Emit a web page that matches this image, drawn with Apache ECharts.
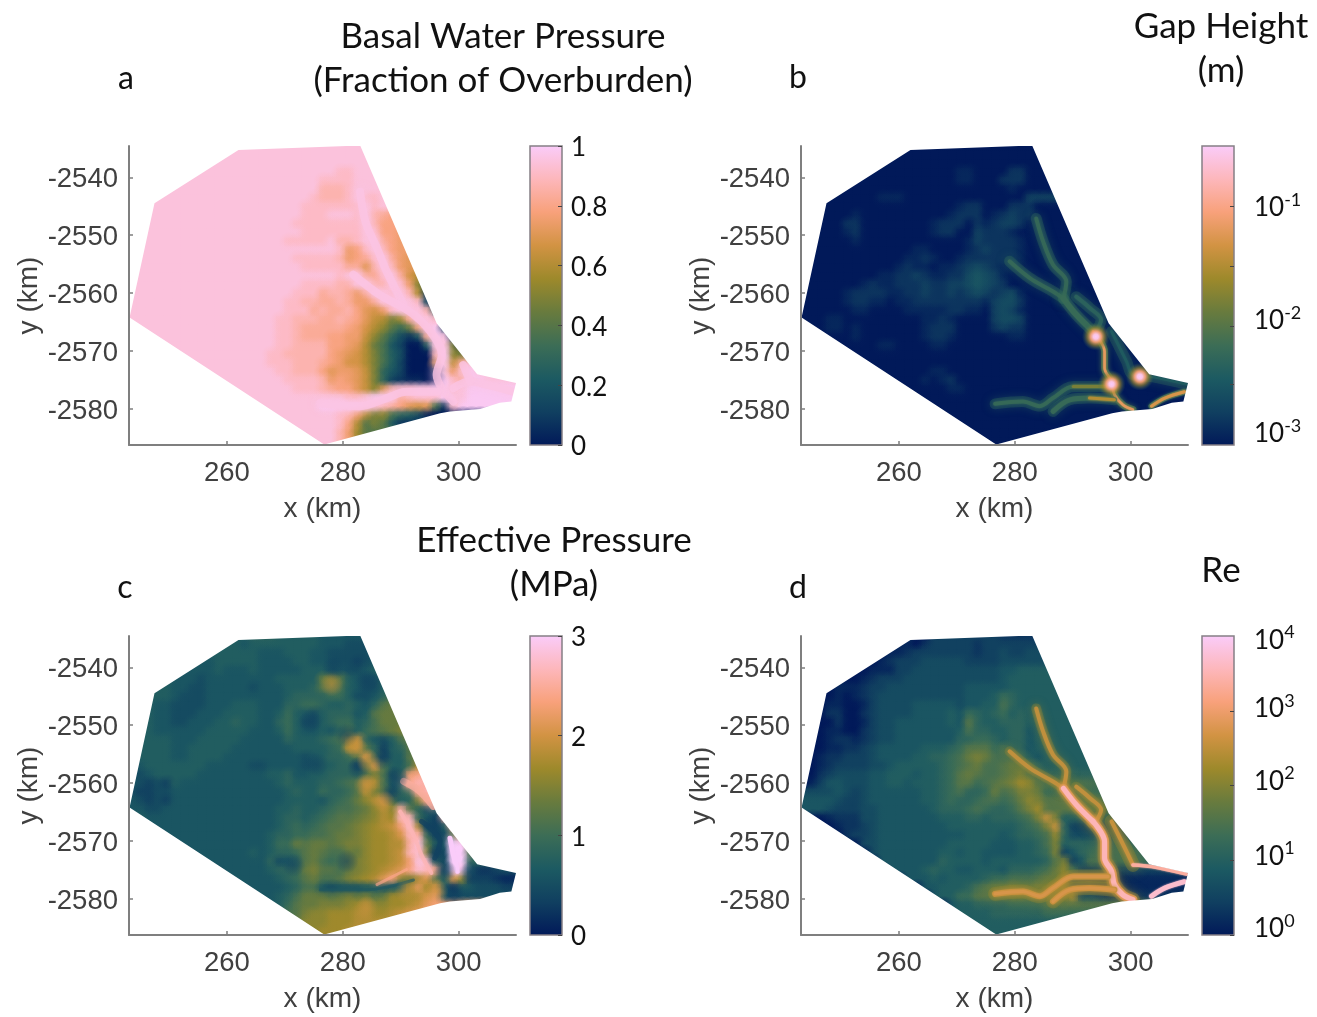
<!DOCTYPE html>
<html><head><meta charset="utf-8">
<style>html,body{margin:0;padding:0;background:#fff}#c{width:1317px;height:1017px}</style>
<script src="https://cdn.jsdelivr.net/npm/echarts@6/dist/echarts.min.js"></script>
</head><body><div id="c"></div>
<script>
const colourStops=['#011959','#103F60','#1C5A62','#3C6D56','#687B3E','#9D892B','#D29343','#F8A17B','#FDB7BC','#FACCFA'];
const outline=[[243.2,-2564.2],[247.5,-2544.5],[262.0,-2535.3],[283.0,-2534.5],[296.2,-2565.2],[303.2,-2574.0],[309.9,-2575.5],[309.1,-2578.7],[307.1,-2578.9],[303.7,-2580.0],[298.5,-2580.4],[296.8,-2580.7],[276.8,-2586.1]];
const xTicks=[260,280,300];
const yTicks=[-2580,-2570,-2560,-2550,-2540];
const rowsA=[
"yyyyy yyyyy yyyyy yyyyy yyyyy yyyyy",
"yyyyy yyyyy yyyyy yyyyy yyyyy yyyyy",
"yyyyy yyyyy yyyyy yyyyy yyyyy yyyyy",
"yyyyy yyyyy yyyyy yyyyy yyyyx xyyyy",
"yyyyy yyyyy yyyyy yyyyy yyxxx xyyyy",
"yyyyy yyyyy yyyyy yyyyy yywww xyyyy",
"yyyyy yyyyy yyyyy yyyyy yxwww xyxxy",
"yyyyy yyyyy yyyyy yyyyy xxxxx xxyxy",
"yyyyy yyyyy yyyyy yyyyy xxxyy yxywv u",
"yyyyy yyyyy yyyyy yyyyx xxxxx xxywu uu",
"yyyyy yyyyy yyyyy yyyyy xxxxx xxyxu ut",
"yyyyy yyyyy yyyyy yyyxx xxxyw wxyyv utt",
"yyyyy yyyyy yyyyy yyyyy yyyyx tuxyw utts",
"yyyyy yyyyy yyyyy yyyyx xxxxw tuvxy vtss",
"yyyyy yyyyy yyyyy yyyyy xxxxx vvswy wtss",
"yyyyy yyyyy yyyyy yyyyy yyyyx yyvvx yvrpn",
"yyyyy yyyyy yyyyy yyyyy xxxxw wyyww yxtng",
"yyyyy yyyyy yyyyy yyyyx xxvww vtvyy xywpc a",
"yyyyy yyyyy yyyyy yyyxx wwvvw vttvy yyyxe aa",
"yyyyy yyyyy yyyyy yyyxx xvwvv wusrt xyyyw ga",
"yyyyy yyyyy yyyyy yyxxw wwvvw vusqp mouyy xxaaa",
"yyyyy yyyyy yyyyy yyxxw vvvvv utrpn kilty zdbaa",
"yyyyy yyyyy yyyyy yyxxw vvvuu ttqnk hecfu zycaa",
"yyyyy yyyyy yyyyy yyxxw wwwuu tsplj fdaag yymbb",
"yyyyy yyyyy yyyyy yxxww wwwut srpmj geaaa wznmm",
"yyyyy yyyyy yyyyy yxxxw wwvut rrpmj gdaaa szquy",
"yyyyy yyyyy yyyyy yyxxw wwust tsqmh fdaaa bytxz yyyyy",
"yyyyy yyyyy yyyyy yyyxx xxwtu tsqmh dcbba azxuz zyyyy",
"yyyyy yyyyy yyyyy yyyyx xxwvu usqns wxxyy zzxyz zzzzz",
"yyyyy yyyyy yyyyy yyyyy yyyyy xxyzz yuwxx xzyyz zzzzz",
"yyyyy yyyyy yyyyy yyyyy yyzzz zzyxw vusrs jcxzz zzzzz",
"yyyyy yyyyy yyyyy yyyyy yyyyx wtpmn jhgeb aaaaa",
"yyyyy yyyyy yyyyy yyyyy yyyyx upkmk fcccc",
"yyyyy yyyyy yyyyy yyyyy yyyyw tokkk kkkkk",
"yyyyy yyyyy yyyyy yyyyy yyyyw toooo"];
const rowsB=[
"a","a","a",
"aaaaa aaaaa aaaaa aaabb aaaac ca",
"aaaaa aaaaa aaaaa aaabb aaacc ca",
"aaaaa aaaaa aaaaa aaaaa aaaab aa",
"aaaaa aaaab bbaaa aaaaa aaaaa ad",
"aaaaa aaaaa aaaaa aaabc caaac cca",
"aaaaa abaaa aaaaa aabcc cabcd cca",
"aaaaa ccaaa aaaaa bccca cbcdd caa",
"aaaaa bcaaa aaaaa bccaa dcccb aaa",
"aaaaa abaaa aaaaa aaaab dcccc baa",
"aaaaa aaaaa aaabb aaaab cdccc baa",
"aaaaa aaaaa aabbc baabc ccccc baa",
"aaaaa aaaaa abcbb abbcd edcbb aaa",
"aaaaa aaaab bccdc bbcce fedba aaa",
"aaaaa aabcb bcccd ccdde fedca aaa",
"aaaaa bcccc bbccd ccdcd edcde baa",
"aaaaa bccbb abbcc ccccc cbdee caa",
"aaaaa abbaa aabbb bbccb baded baa",
"aaabb aaaaa aaaab bcbaa aadee daa",
"aaabb abaaa aaaab cccaa aacdc caa",
"aaaaa abaaa aaaab ccbaa aaaab baa",
"aaaaa aaaab baaaa bbaaa a","a",
"aaaaa aaaaa aaaaa aaaaa aa",
"aaaaa aaaaa aaaaa bbaaa a",
"aaaaa aaaaa aaaab abcaa a",
"aaaaa aaaaa aaaaa aabba a",
"a","a","a","a","a","a"];
const rowsC=[
"ggggg ggggg ggggh hhggg ggfff ffffg",
"ggggg ggggg gggfg ggggg ggfff eeefg g",
"ggggg ggggg ggggg fffgg gffee eeefg gg",
"ggggg gggff ggggg ffffg gffee edefg hh",
"ggggg fffff gfffg fffff gggff eefgi ii",
"ggggg fffef fffff ffggg gglmk gfeeg gg",
"ggggg ffeef ffffe fffgg ghkkj gfeeg hj",
"ggggg feeef fffff fffgh hhhii geefh jk",
"gggff eeeef ffggg fffhh iihgg hgfhk ll",
"gggff eeeff fgggg ffgig feghh hfgkl ll",
"gggff eefff gghgg ffhig eeghi ighjl ll",
"gggff ffffg ggggf ffgig ffgfh jgijk lm",
"ggggg fffgg gggff fffhg gghij pqhfe gjlll",
"ggggg ffggg ggfff ffffg ggghi pqkhd ghkmm",
"ggggg ffggg gffff fffff efghh ikrjd ggkmo",
"ffggg ggggf ffffe effff efggh hdkrj ggjpq n",
"eefgg gggff fffff fgghf fgghh hhkmj ehtuv w",
"feded gffff fffff ffghg gghhi jkqpj fguwv w",
"eddee fffff fffff fffgh ggihh ikpmk ehiuw x",
"feded fffff fffff fffgg ggfhi jlnpr kghmt xw",
"ffeef fffff fffff ffggh gghij jklnp nvkhe fu",
"ggfff fffff fffff ffghh ghijk klmnp owwif dvu",
"ggfff fffff fffff ffghi hijkk lmnop qtxpe dgvv",
"ggfff fffff fffff fghhi ijjkl lmnoo prwvi dekt",
"ggfff fffff fffff fgiil kllkl mmnoo ppvyk gfzzm",
"ggfff fffff ffffg fghhi klkjj llnoo pqwxm dezzj",
"ggfff fffff fffff fhefh kljij lmnoo pqtyx hezzh",
"ggfff fffff fffff fghhi lmkkj lmnop qruxw ueyyf ccdee",
"ggfff fffff fffff ffghi kljjk mnopr tnnpr khrnd ddcb",
"ggfff fffff fffff fffgh jjfef ffggf ggpso rfcff eeedd",
"ggfff fffff fffff ffghj lllkl mlmkl ooopr tfdee e",
"ggfff fffff fffff ffgik llmmm nopnn oopqs t",
"ggfff fffff fffff ffhjk mnnoo oppoo pqrsu",
"ggfff fffff fffff ffhjl nnnoo opppp",
"ggfff fffff fffff ffhjl nnooo ppppp"];
const rowsD=[
"aaaaa aaaaa aacaa ddddd dddcc cc",
"aaaaa aaaaa abbac ddddd cdddd dd",
"aaaaa aaaaa bbcdd ddddd cdded de",
"aaaaa aaaab cddde eeeed dddee ee",
"aaaaa aaabb bddee eeeee eeeff gg",
"aaaab aabcd ddeee eeeee eeefg gg",
"aaaab bbcdd eeeee eeeef ffffg gg",
"aaaab abcde eeeee eeeef ffgih gg",
"aaabb aabde eeeff fffef fggjh ggg",
"aaacc aacde eeeff ffgfi hghig hgg",
"aaaac aabde effff ffgfk hgghh hggg",
"aaabb aacde effff fffgj hhggh hfgg",
"aaabc cbcde effff fffhh iihgh hfgg",
"aaabb ccdef ffffg gghik kkijh hfgg",
"aabcc dddef fffgg hhijl mljjj igfg",
"aabcd dddee fgggg ghijk ljjkl ljhg",
"aacde eeeff gggfg ghikl kjjkl mkhh",
"abdff eeeff ggfgg ghikk ijklm onkj",
"eeeef edeff ffffg ghijh hiljk mmli",
"ffffe ddeff ffffg ghihh ijjij lnmk",
"fffed ddeef fffff ghhhi jihhi kmokk",
"aaabc cceef fffff fgggh hghhh ijmqm g",
"aaaab ccdef fffff ffggg ggggg hijmq hd",
"aaaaa cddef fffff ffffg gggfg hhijn he",
"aaaaa aaeef fffff ffggg ggfff gghjm gh",
"aaaaa aaaef fffff fggfg gffff gghim dfhi",
"aaaaa aaaaf fffff fhggg gfggg ggghk mdfji",
"aaaaa aaaaa ffffg hggff gggfh hhijl niddd dd",
"aaaaa aaaaa aafff gfggg ghiij jjkll oddcc b",
"aaaaa aaaaa aaaaf fgggh jkllm llmmo qeccb b",
"aaaaa aaaaa aaaaa fggii kkkkl lkkll mpeed c",
"aaaaa aaaaa aaaaa aafgg hhhhi iiijj kk",
"aaaaa aaaaa aaaaa aaggg gghhh hhhii",
"aaaaa aaaaa aaaaa aaafg ggggg",
"aaaaa aaaaa aaaaa aaaaf ggggg"];

// channels, x km / y km
const chanTop=[[283.7,-2547.1],[284.9,-2551.1],[286.6,-2555.1],[288.9,-2558.0],[288.4,-2560.9]];
const chanMid=[[279.1,-2554.5],[282.6,-2557.4],[286.6,-2559.7],[288.4,-2560.9]];
const chanMainA=[[288.4,-2560.9],[290.6,-2563.7],[293.5,-2566.6]];
const chanMainB=[[293.5,-2566.6],[295.5,-2570.1],[295.5,-2572.9],[296.7,-2575.2],[297.2,-2577.5],[298.7,-2579.3],[300.4,-2580.1]];
const chanSide=[[290.6,-2560.6],[293.0,-2562.6],[294.9,-2564.6],[294.0,-2566.6]];
const chanUpperStrand=[[276.6,-2579.1],[281.4,-2578.7],[284.3,-2579.5],[286.6,-2578.1],[290.1,-2576.1],[296.1,-2576.1]];
const chanLowerStrand=[[286.6,-2580.4],[289.5,-2578.4],[292.9,-2578.1],[297.2,-2578.4]];
const chanRight=[[296.7,-2566.6],[299.3,-2571.8],[300.4,-2574.1],[303.6,-2574.4],[309.6,-2575.7]];
const chanOutlet=[[303.6,-2579.5],[305.9,-2578.1],[309.3,-2577.0]];
const hotSpots=[[294.0,-2567.5],[296.7,-2575.7],[301.6,-2574.4]];
const pinkA1=[[283.0,-2542.5],[283.9,-2547.6],[285.9,-2552.2],[287.6,-2556.3],[290.5,-2562.0]];
const pinkA2=[[281.8,-2556.8],[286.4,-2560.3],[291.6,-2563.2],[295.1,-2566.6],[297.1,-2570.6],[296.2,-2574.1],[297.1,-2576.4],[299.1,-2578.7]];
const pinkA3=[[276.1,-2579],[283,-2579.5],[287.6,-2578.1],[291,-2577],[296.2,-2577]];
const pinkA4=[[299.1,-2576.4],[302,-2575.2],[304.8,-2575.8],[309.4,-2577]];
const pinkA5=[[300.8,-2572.4],[302,-2575.2]];
const brightC1=[[290.5,-2559.7],[293.3,-2561.4],[295.6,-2564]];
const brightC2=[[289.9,-2564.9],[292.2,-2568.9],[293.6,-2572.4],[295.3,-2575.5]];
const brightC3=[[298.5,-2569.5],[299.1,-2572.4],[299.8,-2575.2]];
const brightC4=[[285.9,-2577.5],[291,-2574.9]];
const darkC1=[[276.1,-2578.4],[284.1,-2578.4],[288.2,-2577.8],[292.2,-2576.7]];
const darkC2=[[293.6,-2566.6],[296.8,-2570.1],[295.9,-2572.9]];
const darkSpotsC=[[282.7,-2557.4],[286.7,-2555.7],[289.3,-2559.1],[288.2,-2562],[280.7,-2551.7],[274.4,-2549.4],[275.5,-2556.8],[295.6,-2567.2],[296.2,-2572.4],[297.6,-2575.2],[302,-2575.5],[299.1,-2579],[280.7,-2573.5],[271.5,-2574.1],[284.1,-2542.5],[278.4,-2540.2]];
const brightSpotsC=[[282.1,-2553.7],[284.4,-2556.3],[283.9,-2560.3],[287,-2563.2],[291,-2578.7],[296.2,-2578.7],[284.1,-2581.6],[278.1,-2543]];

const cellKm=1.5, x0=243.75, y0=-2534.75;
function decode(rows,lo,hi){
  const out=[];
  rows.forEach((r,j)=>{
    const s=r.replace(/ /g,'');
    for(let i=0;i<45;i++){
      const ch=s[Math.min(i,s.length-1)];
      out.push([x0+cellKm*i,y0-cellKm*j,lo+(hi-lo)*(ch.charCodeAt(0)-97)/25]);
    }
  });
  return out;
}
function lv(ch){
  const t=(ch.charCodeAt(0)-97)/25*(colourStops.length-1);
  const k=Math.min(Math.floor(t),colourStops.length-2),f=t-k;
  const h=c=>[1,3,5].map(p=>parseInt(c.substr(p,2),16));
  const a=h(colourStops[k]),b=h(colourStops[k+1]);
  return 'rgb('+a.map((v,n)=>Math.round(v+(b[n]-v)*f)).join(',')+')';
}
const axisGrey='#7f7f7f', textGrey='#404040', sans='"Liberation Sans",Arial,sans-serif', cal='Lato,"Noto Sans",sans-serif';
const panels=[
 {key:'a',left:129,top:146,rows:rowsA,lo:0,hi:1,scale:.985},
 {key:'b',left:801,top:146,rows:rowsB,lo:-3.115,hi:-0.469,scale:1},
 {key:'c',left:129,top:636,rows:rowsC,lo:0,hi:3,scale:1},
 {key:'d',left:801,top:636,rows:rowsD,lo:0,hi:4,scale:1}];
const W=387,H=299,barGap=14,barW=32;
const barTicks={a:[0,.2,.4,.6,.8,1],b:[-2.58,-2.06,-1.53,-1],c:[0,1,2,3],d:[0,1,2,3]};
const barLabels={a:[0,.2,.4,.6,.8,1],b:[-3,-2,-1],c:[0,1,2,3],d:[.11,1.08,2.08,3.05,3.97]};
const grid=[],xAxis=[],yAxis=[],series=[],visualMap=[];
const alpha=(c,a)=>echarts.color.modifyAlpha(c,a);
function addLine(gi,pts,ch,w,blur,op){
  series.push({type:'line',xAxisIndex:gi,yAxisIndex:gi,data:pts,smooth:.35,symbol:'none',silent:true,z:3,
    lineStyle:{color:lv(ch),width:w,cap:'round',join:'round',opacity:op==null?1:op,shadowBlur:blur||0,shadowColor:lv(ch)}});
}
function addHot(gi,pts,size){
  series.push({type:'scatter',xAxisIndex:gi,yAxisIndex:gi,data:pts,symbolSize:size,silent:true,z:4,
    itemStyle:{opacity:1,color:new echarts.graphic.RadialGradient(.5,.5,.5,[
      {offset:0,color:lv('z')},{offset:.18,color:lv('y')},{offset:.4,color:alpha(lv('t'),.95)},{offset:.65,color:alpha(lv('o'),.6)},{offset:1,color:alpha(lv('i'),0)}])}});
}
function addSoft(gi,pts,ch,size,a){
  series.push({type:'scatter',xAxisIndex:gi,yAxisIndex:gi,data:pts,symbolSize:size,silent:true,z:3,
    itemStyle:{opacity:1,color:new echarts.graphic.RadialGradient(.5,.5,.5,[
      {offset:0,color:alpha(lv(ch),a)},{offset:.5,color:alpha(lv(ch),a*.6)},{offset:1,color:alpha(lv(ch),0)}])}});
}
panels.forEach((p,n)=>{
  const gi=n*2, bi=n*2+1;
  grid.push({left:p.left,top:p.top,width:W,height:H});
  grid.push({left:p.left+W+barGap,top:p.top,width:barW,height:H});
  xAxis.push({gridIndex:gi,type:'value',min:243.1,max:309.9,z:10,name:'x (km)',nameLocation:'middle',nameGap:50,
    nameTextStyle:{fontFamily:sans,fontSize:28,color:textGrey},
    axisLine:{lineStyle:{color:axisGrey,width:2}},axisTick:{inside:true,length:4,lineStyle:{color:axisGrey,width:1.5},customValues:xTicks},
    axisLabel:{customValues:xTicks,fontFamily:sans,fontSize:27.5,color:textGrey,margin:14,formatter:v=>String(v)},splitLine:{show:false}});
  yAxis.push({gridIndex:gi,type:'value',min:-2586.2,max:-2534.6,z:10,name:'y (km)',nameLocation:'middle',nameGap:83,nameRotate:90,
    nameTextStyle:{fontFamily:sans,fontSize:28,color:textGrey},
    axisLine:{lineStyle:{color:axisGrey,width:2}},axisTick:{inside:true,length:4,lineStyle:{color:axisGrey,width:1.5},customValues:yTicks},
    axisLabel:{customValues:yTicks,margin:11,formatter:v=>'{v|'+v+'}',
      rich:{v:{fontFamily:sans,fontSize:27.5,color:textGrey,padding:[5,0,0,0]}}},splitLine:{show:false}});
  xAxis.push({gridIndex:bi,type:'value',min:0,max:1,show:false});
  const isLog=p.key==='b'||p.key==='d';
  yAxis.push({gridIndex:bi,type:'value',min:p.lo,max:p.hi,position:'right',z:10,
    axisLine:{show:false,onZero:false},axisTick:{inside:true,length:4,lineStyle:{color:'#444',width:1},customValues:barTicks[p.key]},splitLine:{show:false},
    axisLabel:{customValues:barLabels[p.key],margin:isLog?20:9,color:'#111',fontFamily:cal,fontSize:26,padding:[4,0,0,0],
      formatter:isLog?(v=>'{b|10}{s|'+Math.round(v)+'}'):(v=>String(v)),
      rich:{b:{fontFamily:cal,fontSize:26,color:'#111',height:30,lineHeight:30},s:{fontFamily:cal,fontSize:18,color:'#111',verticalAlign:'top',height:14,lineHeight:14}}}});
  const cells=decode(p.rows,p.lo,p.lo+(p.hi-p.lo)*p.scale);
  visualMap.push({show:false,type:'continuous',min:p.lo,max:p.hi,dimension:2,seriesIndex:[series.length,series.length+1],inRange:{color:colourStops}});
  series.push({type:'custom',name:p.key,xAxisIndex:gi,yAxisIndex:gi,silent:true,z:2,clip:true,data:cells,encode:{x:0,y:1},
    renderItem:(params,api)=>{
      const c=api.coord([api.value(0),api.value(1)]),s=api.size([cellKm,cellKm]);
      return {type:'rect',shape:{x:c[0]-s[0]/2-.5,y:c[1]-s[1]/2-.5,width:s[0]+1,height:s[1]+1},style:{fill:api.visual('color')}};
    }});
  series.push({type:'custom',name:p.key+' soft',xAxisIndex:gi,yAxisIndex:gi,silent:true,z:2,clip:true,data:cells,encode:{x:0,y:1},
    renderItem:(params,api)=>{
      const c=api.coord([api.value(0),api.value(1)]),s=api.size([cellKm,cellKm]),col=api.visual('color'),r=s[0]*1.25;
      return {type:'circle',shape:{cx:c[0],cy:c[1],r:r},style:{fill:new echarts.graphic.RadialGradient(.5,.5,.5,[
        {offset:0,color:alpha(col,.8)},{offset:.5,color:alpha(col,.45)},{offset:1,color:alpha(col,0)}])}};
    }});
  if(p.key==='a'){
    [pinkA1,pinkA2,pinkA3,pinkA4,pinkA5].forEach(c=>addLine(gi,c,'y',8,10,.8));
  }
  if(p.key==='b'){
    [chanTop,chanMid,chanMainA,chanSide,chanUpperStrand,chanLowerStrand,chanRight].forEach(c=>addLine(gi,c,'h',11,8,.4));
    [chanTop,chanMid].forEach(c=>addLine(gi,c,'i',4,4,.8));
    addLine(gi,chanMainA,'i',6,4,.9);addLine(gi,chanSide,'h',4,3,.8);
    addLine(gi,chanMainB,'j',7,5,.85);addLine(gi,chanMainB,'s',2.5,2);
    addLine(gi,chanUpperStrand,'i',4,3,.8);addLine(gi,chanLowerStrand,'i',5,3,.85);
    addLine(gi,chanLowerStrand.slice(2),'p',3,3);addLine(gi,chanUpperStrand.slice(4),'m',3,3);
    addLine(gi,chanRight,'g',3,3,.8);addLine(gi,chanOutlet,'i',6,3,.9);addLine(gi,chanOutlet,'r',3,2);
    addHot(gi,hotSpots,28);
  }
  if(p.key==='c'){
    addLine(gi,brightC1,'v',7,8,.75);addLine(gi,brightC2,'w',4,8,.8);addLine(gi,brightC3,'z',5,6);addLine(gi,brightC4,'u',3,7,.75);
    addLine(gi,darkC1,'f',3,6,.6);addLine(gi,darkC2,'d',5,7,.75);
    addSoft(gi,darkSpotsC,'d',24,.55);addSoft(gi,brightSpotsC,'q',24,.55);
  }
  if(p.key==='d'){
    [chanTop,chanMid,chanSide].forEach(c=>addLine(gi,c,'m',10,8,.4));
    [chanMainA,chanMainB,chanUpperStrand,chanLowerStrand,chanRight.slice(0,3)].forEach(c=>addLine(gi,c,'n',14,12,.4));
    [chanTop,chanMid,chanSide].forEach(c=>addLine(gi,c,'q',4,4,.9));
    [chanMainA,chanMainB].forEach(c=>addLine(gi,c,'r',9,5));
    [chanMainA,chanMainB].forEach(c=>addLine(gi,c,'w',5,2));
    [chanUpperStrand,chanLowerStrand].forEach(c=>addLine(gi,c,'q',6,4));
    [chanUpperStrand,chanLowerStrand].forEach(c=>addLine(gi,c,'r',3,2));
    addLine(gi,chanRight.slice(0,3),'q',4,4);
    addLine(gi,chanRight.slice(2),'v',3.5,2);
    addLine(gi,chanOutlet,'x',5,2);
  }
  // white mask around the ice outline
  series.push({type:'custom',xAxisIndex:gi,yAxisIndex:gi,silent:true,z:5,clip:false,data:[[243.1,-2586.2]],encode:{x:0,y:1},
    renderItem:(params,api)=>{
      const o=[[241.2,-2588.6],[312,-2588.6],[312,-2532],[241.2,-2532],[241.2,-2588.6]];
      const start=[[243.2,-2588.6]];
      const ring=outline.concat([outline[0]]);
      const pts=o.concat(start,ring,start).map(q=>api.coord(q));
      return {type:'polygon',shape:{points:pts},style:{fill:'#fff'}};
    }});
  // colour bar
  series.push({type:'custom',xAxisIndex:bi,yAxisIndex:bi,silent:true,z:6,clip:false,data:[[0,p.lo]],encode:{x:0,y:1},
    renderItem:(params,api)=>{
      const a=api.coord([0,p.lo]),b=api.coord([1,p.hi]);
      return {type:'rect',shape:{x:a[0],y:b[1],width:b[0]-a[0],height:a[1]-b[1]},
        style:{stroke:'#857f85',lineWidth:1.5,fill:new echarts.graphic.LinearGradient(0,1,0,0,colourStops.map((c,i)=>({offset:i/(colourStops.length-1),color:c})))}};
    }});
});
const T=(t,x,y,size,align)=>({type:'text',x:x,y:y,z:20,style:{text:t,fontFamily:cal,fontSize:size,fill:'#111',align:align||'center',verticalAlign:'middle'}});
const chart=echarts.init(document.getElementById('c'),null,{renderer:'canvas'});
chart.setOption({animation:false,backgroundColor:'#fff',grid,xAxis,yAxis,series,visualMap,tooltip:{show:false},
  graphic:[T('Basal Water Pressure',503,37,35),T('(Fraction of Overburden)',503,81,35),T('a',126,79,32),T('b',798,78,32),
    T('c',125,588,32),T('d',798,588,32),T('Gap Height',1221,27,35),T('(m)',1221,71,35),T('Effective Pressure',554,541,35),T('(MPa)',554,585,35),T('Re',1221,571,35)]});
</script></body></html>
